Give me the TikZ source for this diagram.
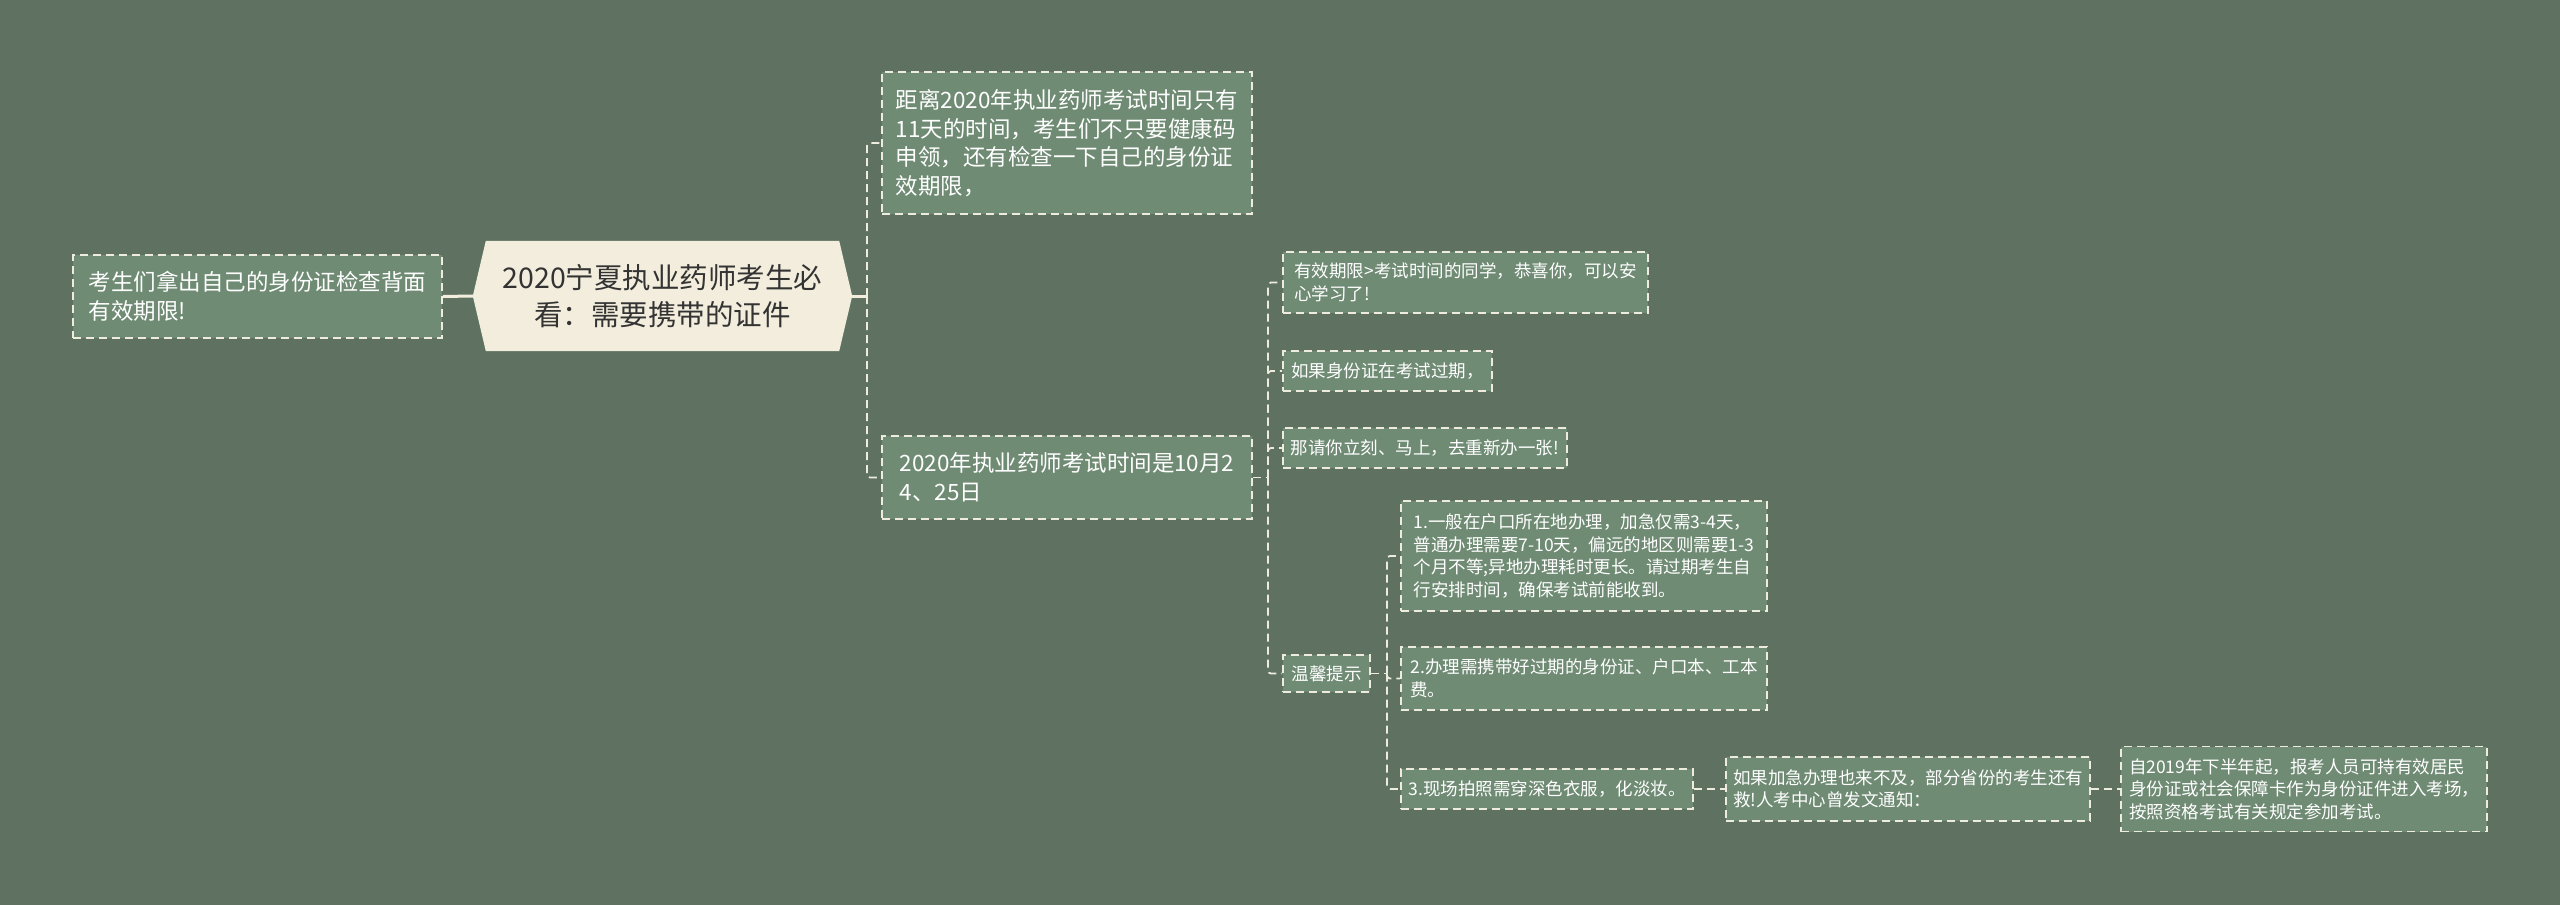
\documentclass[tikz,border=0pt]{standalone}
\usepackage{fontspec}
\setmainfont{Noto Sans CJK SC}
\usetikzlibrary{backgrounds}
\definecolor{bgc}{HTML}{5F7262}
\definecolor{nodefill}{HTML}{6F8B74}
\definecolor{rootfill}{HTML}{F2EDDC}
\definecolor{linec}{HTML}{EEECDF}
\definecolor{roottext}{HTML}{333333}
\tikzset{
  boxbase/.style={draw=linec, line width=1.8pt, dash pattern=on 8pt off 5pt,
    fill=nodefill, text=white, align=left, inner sep=0pt},
  lvlone/.style={boxbase, font=\fontsize{22.5}{28.5}\selectfont},
  lvltwo/.style={boxbase, font=\fontsize{17.5}{22.5}\selectfont},
  conn/.style={draw=linec, line width=1.8pt, dash pattern=on 8pt off 5pt, rounded corners=3pt},
  rootline/.style={draw=rootfill, line width=3pt},
  rootnode/.style={text=roottext, align=center, inner sep=0pt,
    font=\fontsize{28.5}{37.5}\selectfont}
}
\begin{document}
\begin{tikzpicture}[x=1pt,y=-1pt]
\useasboundingbox (0,0) rectangle (2560,905);

% root
\node[rootnode, minimum width=379, minimum height=110] (root) at (662.5,296)
  {2020宁夏执业药师考生必\\看：需要携带的证件};
\begin{scope}[on background layer]
\fill[bgc] (0,0) rectangle (2560,905);
\fill[rootfill] (root.west) -- ([xshift=13pt]root.north west) -- ([xshift=-13pt]root.north east)
  -- (root.east) -- ([xshift=-13pt]root.south east) -- ([xshift=13pt]root.south west) -- cycle;
\end{scope}

% left
\node[lvlone, minimum width=369, minimum height=83] (left) at (257.5,296.5)
  {考生们拿出自己的身份证检查背面\\有效期限!};

% level 1 right
\node[lvlone, minimum width=370, minimum height=142] (n1) at (1067,143)
  {距离2020年执业药师考试时间只有\\11天的时间，考生们不只要健康码\\申领，还有检查一下自己的身份证\\效期限，};
\node[lvlone, minimum width=370, minimum height=83] (n2) at (1067,477.5)
  {2020年执业药师考试时间是10月2\\4、25日};

% level 2
\node[lvltwo, minimum width=365, minimum height=61] (c1) at (1465.5,282.5)
  {有效期限>考试时间的同学，恭喜你，可以安\\心学习了!};
\node[lvltwo, minimum width=209, minimum height=40] (c2) at (1387.5,371)
  {如果身份证在考试过期，};
\node[lvltwo, minimum width=284, minimum height=40] (c3) at (1425,448)
  {那请你立刻、马上，去重新办一张!};
\node[lvltwo, minimum width=87, minimum height=37] (c4) at (1326.5,673.5)
  {温馨提示};

% level 3
\node[lvltwo, minimum width=366, minimum height=110] (g1) at (1584,556)
  {1.一般在户口所在地办理，加急仅需3-4天，\\普通办理需要7-10天，偏远的地区则需要1-3\\个月不等;异地办理耗时更长。请过期考生自\\行安排时间，确保考试前能收到。};
\node[lvltwo, minimum width=366, minimum height=63] (g2) at (1584,678.5)
  {2.办理需携带好过期的身份证、户口本、工本\\费。};
\node[lvltwo, minimum width=292, minimum height=40] (g3) at (1547,789)
  {3.现场拍照需穿深色衣服，化淡妆。};

% level 4, 5
\node[lvltwo, minimum width=364, minimum height=64] (h1) at (1908,789)
  {如果加急办理也来不及，部分省份的考生还有\\救!人考中心曾发文通知：};
\node[lvltwo, minimum width=366, minimum height=85] (k1) at (2304,789)
  {自2019年下半年起，报考人员可持有效居民\\身份证或社会保障卡作为身份证件进入考场，\\按照资格考试有关规定参加考试。};

% connectors
\draw[rootline] (root.west) -- (left.east);
\coordinate (j0) at (867,296);
\draw[rootline] (root.east) -- (j0);
\draw[conn] (j0) |- (n1.west);
\draw[conn] (j0) |- (n2.west);

\coordinate (j1) at (1268,477.5);
\draw[conn] (n2.east) -- (j1);
\draw[conn] (j1) |- (c1.west);
\draw[conn] (j1) |- (c2.west);
\draw[conn] (j1) |- (c3.west);
\draw[conn] (j1) |- (c4.west);

\coordinate (j2) at (1387,673.5);
\draw[conn] (c4.east) -- (j2);
\draw[conn] (j2) |- (g1.west);
\draw[conn] (j2) |- (g2.west);
\draw[conn] (j2) |- (g3.west);

\draw[conn] (g3.east) -- (h1.west);
\draw[conn] (h1.east) -- (k1.west);
\end{tikzpicture}
\end{document}
